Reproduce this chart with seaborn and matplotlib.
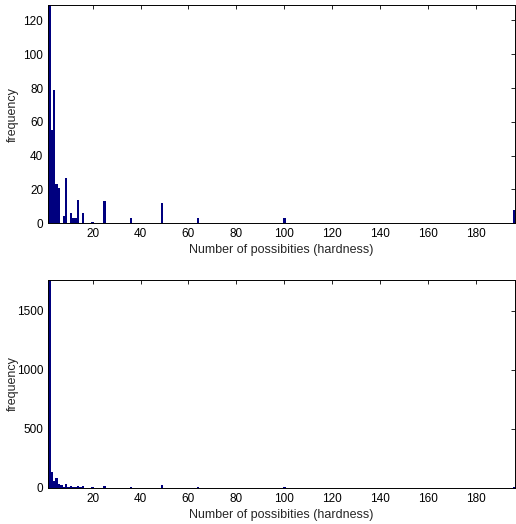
import matplotlib
matplotlib.use("Agg")
import matplotlib.pyplot as plt
import pandas as pd
import seaborn as sns

# Hardness values (number of possibilities) and their counts
top_hardness = [2, 3, 4, 5, 6, 8, 9, 11, 12, 13, 14, 16, 20, 25, 36, 49, 64, 100, 196]
top_counts = [129, 55, 79, 23, 21, 4, 27, 6, 3, 3, 14, 6, 1, 13, 3, 12, 3, 3, 8]

bottom_hardness = [2, 3, 4, 5, 6, 7, 8, 9, 10, 11, 12, 13, 14, 15, 16, 20, 25, 36, 49, 64, 100, 196]
bottom_counts = [1760, 135, 60, 85, 35, 25, 10, 30, 5, 12, 8, 8, 18, 5, 12, 5, 18, 8, 20, 7, 4, 8]

x_ticks = [20, 40, 60, 80, 100, 120, 140, 160, 180]
top_yticks = [0, 20, 40, 60, 80, 100, 120]
bottom_yticks = [0, 500, 1000, 1500]

BAR_COLOR = "#00007f"

sns.set_style("white")
plt.rcParams["font.family"] = ["Liberation Sans", "DejaVu Sans"]

fig = plt.figure(figsize=(5.16, 5.24), dpi=100)
ax_top = fig.add_axes([0.093, 0.574, 0.905, 0.416])
ax_bot = fig.add_axes([0.093, 0.069, 0.905, 0.397])

df_top = pd.DataFrame({"hardness": top_hardness, "count": top_counts})
df_bot = pd.DataFrame({"hardness": bottom_hardness, "count": bottom_counts})

for ax, df, yticks, ymax in [
    (ax_top, df_top, top_yticks, 129),
    (ax_bot, df_bot, bottom_yticks, 1760),
]:
    sns.histplot(data=df, x="hardness", weights="count", discrete=True,
                 color=BAR_COLOR, alpha=1, linewidth=0, ax=ax)
    ax.set_xlim(1.4, 196.2)
    ax.set_ylim(0, ymax)
    ax.set_xticks(x_ticks)
    ax.set_yticks(yticks)
    ax.set_xlabel("Number of possibities (hardness)", fontsize=9, labelpad=3)
    ax.set_ylabel("frequency", fontsize=9)
    ax.yaxis.set_label_coords(-0.063, 0.5)
    ax.tick_params(direction="in", length=3, width=0.6, labelsize=8.5,
                   top=True, right=True, colors="black")
    for s in ax.spines.values():
        s.set_visible(True)
        s.set_color("black")
        s.set_linewidth(0.7)

fig.savefig("out.png", dpi=100)
